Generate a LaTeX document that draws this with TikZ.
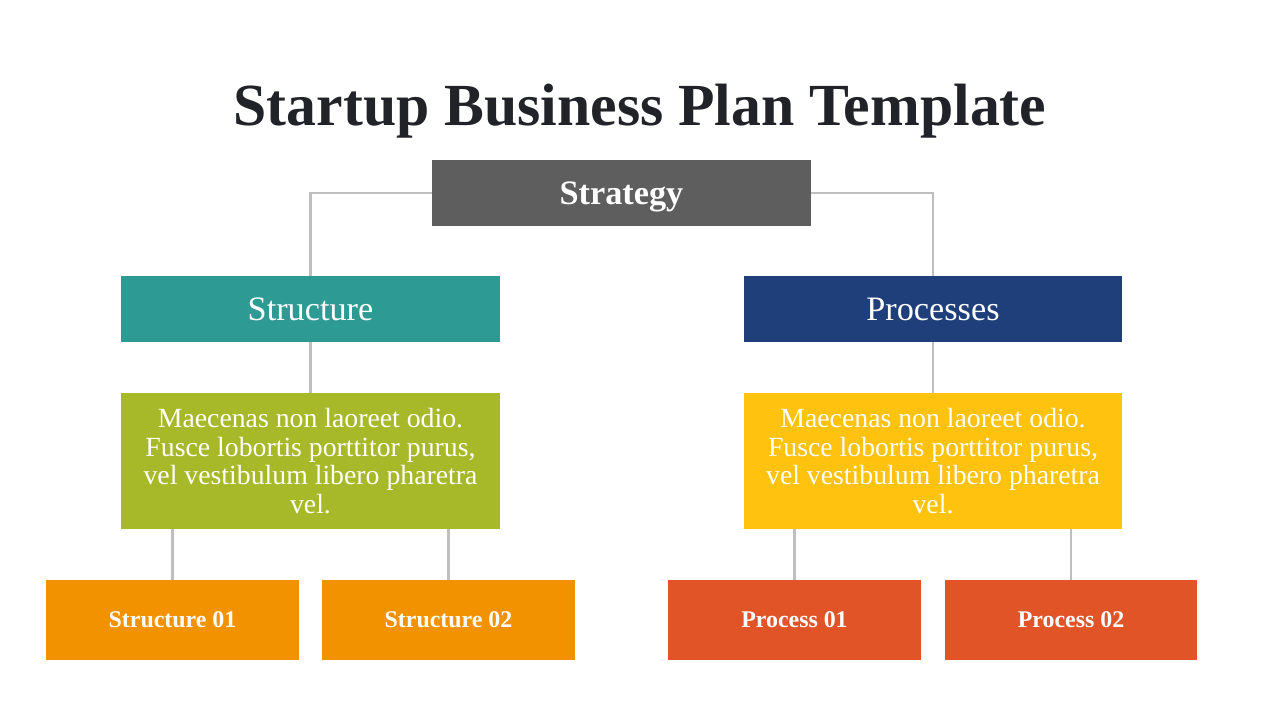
\documentclass[tikz,border=0pt]{standalone}
\usepackage{fontspec}
\setmainfont{Liberation Serif}
\usetikzlibrary{positioning}

\definecolor{titlegray}{HTML}{222328}
\definecolor{stratgray}{HTML}{5E5E5E}
\definecolor{structteal}{HTML}{2E9A94}
\definecolor{procnavy}{HTML}{1F3F7A}
\definecolor{descgreen}{HTML}{A7B828}
\definecolor{descyellow}{HTML}{FFC20E}
\definecolor{leaforange}{HTML}{F39200}
\definecolor{leafred}{HTML}{E05427}
\definecolor{linkgray}{HTML}{BFBFBF}

\tikzset{
  box/.style={rectangle,inner sep=0pt,text=white,align=center},
  headbox/.style={box,minimum width=7.58cm,minimum height=1.32cm,text depth=0pt,font=\fontsize{19.5}{22}\selectfont},
  descbox/.style={box,minimum width=7.58cm,minimum height=2.72cm,
    font=\fontsize{15.8}{16.4}\selectfont},
  leafbox/.style={box,minimum width=5.06cm,minimum height=1.6cm,text depth=0pt,font=\bfseries\fontsize{13.6}{15}\selectfont},
  link/.style={draw=linkgray,line width=1.3pt}
}

\begin{document}
\begin{tikzpicture}[x=0.02cm,y=-0.02cm]
\useasboundingbox[fill=white] (0,0) rectangle (1280,720);

\node[font=\bfseries\fontsize{34}{38}\selectfont,text=titlegray] (title) at (640,111) {Startup Business Plan Template};

\node[headbox,fill=stratgray,font=\bfseries\fontsize{19.5}{22}\selectfont] (strategy) at (621.5,193) {Strategy};
\node[headbox,fill=structteal] (structure) at (310.5,309) {Structure};
\node[headbox,fill=procnavy] (processes) at (933,309) {Processes};

\node[descbox,fill=descgreen] (structdesc) at (310.5,461) {Maecenas non laoreet odio.\\ Fusce lobortis porttitor purus,\\ vel vestibulum libero pharetra\\ vel.};
\node[descbox,fill=descyellow] (procdesc) at (933,461) {Maecenas non laoreet odio.\\ Fusce lobortis porttitor purus,\\ vel vestibulum libero pharetra\\ vel.};

\node[leafbox,fill=leaforange] (struct1) at (172.5,620) {Structure 01};
\node[leafbox,fill=leaforange] (struct2) at (448.5,620) {Structure 02};
\node[leafbox,fill=leafred] (proc1) at (794.5,620) {Process 01};
\node[leafbox,fill=leafred] (proc2) at (1071,620) {Process 02};

% connectors
\draw[link] (strategy.west) -| (structure.north);
\draw[link] (strategy.east) -| (processes.north);
\draw[link] (structure.south) -- (structdesc.north);
\draw[link] (processes.south) -- (procdesc.north);
\draw[link] (struct1.north) -- (struct1.north |- structdesc.south);
\draw[link] (struct2.north) -- (struct2.north |- structdesc.south);
\draw[link] (proc1.north) -- (proc1.north |- procdesc.south);
\draw[link] (proc2.north) -- (proc2.north |- procdesc.south);

\end{tikzpicture}
\end{document}
